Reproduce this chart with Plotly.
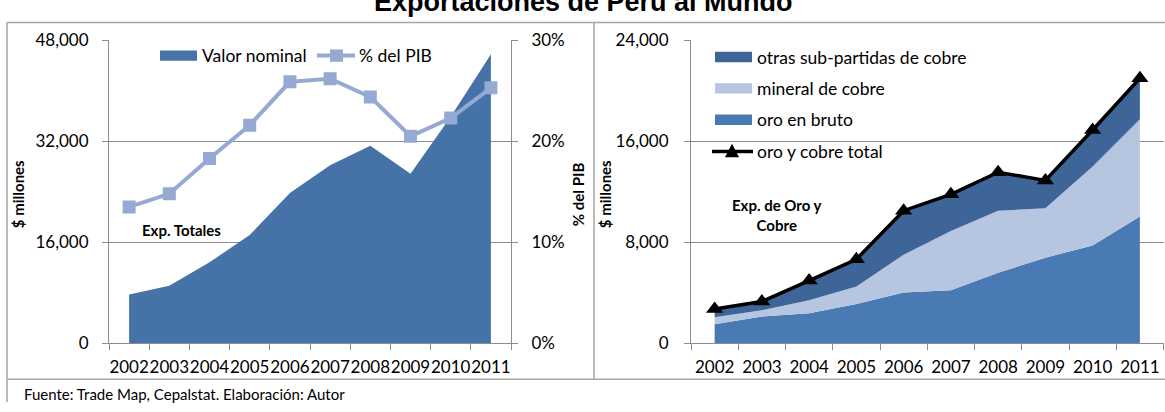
import plotly.graph_objects as go

W, H = 1165, 412

# ---- data -------------------------------------------------------------
years = ["2002", "2003", "2004", "2005", "2006", "2007", "2008", "2009", "2010", "2011"]

# Exportaciones totales, $ millones
valor_nominal = [7714, 9091, 12809, 17150, 23810, 28200, 31300, 26850, 35900, 45800]
# Exportaciones como % del PIB
pib_pct = [13.5, 14.8, 18.3, 21.6, 25.9, 26.2, 24.4, 20.5, 22.3, 25.3]

# Oro y cobre, $ millones (componentes apilados)
oro_bruto = [1500, 2110, 2380, 3100, 4020, 4190, 5580, 6780, 7750, 10050]
mineral_cobre = [560, 490, 1020, 1400, 2980, 4710, 4920, 3920, 6250, 7700]
otras_cobre = [650, 700, 1560, 2150, 3500, 2900, 3050, 2200, 2900, 3250]
total_oro_cobre = [a + b + c for a, b, c in zip(oro_bruto, mineral_cobre, otras_cobre)]

left_ticks = [0, 16000, 32000, 48000]
pct_ticks = [0, 10, 20, 30]
pct_labels = ["0%", "10%", "20%", "30%"]
right_ticks = [0, 8000, 16000, 24000]

# ---- styles -----------------------------------------------------------
C_AREA = "#4572A7"
C_PIB = "#95A9D3"
C_ORO = "#4A7AB4"
C_MINERAL = "#B6C5E0"
C_OTRAS = "#3E6597"
GRID = "#8C8C8C"
FRAME = "#A6A6A6"
FONT = "Lato"


def px(x):
    return x / W


def py(y):
    return 1 - y / H


fig = go.Figure()

# left panel: total exports area + % of GDP line
fig.add_trace(go.Scatter(
    x=years, y=valor_nominal, xaxis="x", yaxis="y", mode="none",
    fill="tozeroy", fillcolor=C_AREA, name="Valor nominal", hoverinfo="skip"))
fig.add_trace(go.Scatter(
    x=years, y=pib_pct, xaxis="x", yaxis="y2", mode="lines+markers",
    line=dict(color=C_PIB, width=4),
    marker=dict(symbol="square", size=13, color=C_PIB),
    name="% del PIB"))

# right panel: stacked gold / copper exports + total line
for name, vals, color in [("oro en bruto", oro_bruto, C_ORO),
                          ("mineral de cobre", mineral_cobre, C_MINERAL),
                          ("otras sub-partidas de cobre", otras_cobre, C_OTRAS)]:
    fig.add_trace(go.Scatter(
        x=years, y=vals, xaxis="x2", yaxis="y3", stackgroup="cu",
        mode="none", fillcolor=color, line=dict(width=0), name=name))
fig.add_trace(go.Scatter(
    x=years, y=total_oro_cobre, xaxis="x2", yaxis="y3", mode="lines+markers",
    line=dict(color="black", width=3.5),
    marker=dict(symbol="triangle-up", size=15, color="black"),
    name="oro y cobre total"))

tickfont = dict(family=FONT, size=17, color="black")
axis_base = dict(showline=True, linecolor=GRID, linewidth=1, ticks="outside",
                 ticklen=6, tickcolor=GRID, tickfont=tickfont, showgrid=False,
                 zeroline=False, fixedrange=True)

y_dom = [py(350), py(31)]

fig.update_layout(
    width=W, height=H, autosize=False,
    margin=dict(l=0, r=0, t=0, b=0),
    paper_bgcolor="white", plot_bgcolor="rgba(0,0,0,0)",
    showlegend=False,
    xaxis=dict(axis_base, domain=[px(109), px(511)], type="category",
               range=[-0.5, 9.5], tickson="boundaries", anchor="y",
               tickangle=0, ticklabelstandoff=8),
    yaxis=dict(axis_base, domain=y_dom, range=[0, 48000], tickvals=left_ticks,
               tickformat=",d", showgrid=True, gridcolor=GRID, gridwidth=1,
               anchor="x", ticklabelstandoff=10),
    yaxis2=dict(axis_base, overlaying="y", side="right", range=[0, 30],
                tickmode="array", tickvals=pct_ticks, ticktext=pct_labels,
                anchor="x", ticklabelstandoff=10),
    xaxis2=dict(axis_base, domain=[px(691), px(1163.5)], type="category",
                range=[-0.5, 9.5], tickson="boundaries", anchor="y3",
                tickangle=0, ticklabelstandoff=8),
    yaxis3=dict(axis_base, domain=y_dom, range=[0, 24000], tickvals=right_ticks,
                tickformat=",d", showgrid=True, gridcolor=GRID, gridwidth=1,
                anchor="x2", ticklabelstandoff=12),
)

shapes = []
# panel frames
frame = dict(type="line", xref="paper", yref="paper",
             line=dict(color=FRAME, width=1.5), layer="below")
for x0, y0, x1, y1 in [(7, 12, W, 12), (7, 12, 7, H), (594, 12, 594, 388),
                       (7, 388, W, 388)]:
    shapes.append(dict(frame, x0=px(x0), y0=py(y0), x1=px(x1), y1=py(y1)))


def swatch(x0, x1, yc, h, color):
    return dict(type="rect", xref="paper", yref="paper", x0=px(x0), x1=px(x1),
                y0=py(yc + h / 2), y1=py(yc - h / 2), fillcolor=color,
                line=dict(width=0))


# left legend
shapes.append(swatch(160, 197, 47, 11, C_AREA))
shapes.append(dict(type="line", xref="paper", yref="paper", x0=px(317), x1=px(355),
                   y0=py(47), y1=py(47), line=dict(color=C_PIB, width=4)))
shapes.append(swatch(330, 343, 47, 13, C_PIB))

# right legend
leg_rows = [48.5, 81.5, 114.5, 148]
for yc, color in zip(leg_rows[:3], [C_OTRAS, C_MINERAL, C_ORO]):
    shapes.append(swatch(715, 752, yc, 11, color))
shapes.append(dict(type="line", xref="paper", yref="paper", x0=px(712), x1=px(753),
                   y0=py(leg_rows[3]), y1=py(leg_rows[3]),
                   line=dict(color="black", width=3.5)))
tx, ty = 732, leg_rows[3]
shapes.append(dict(type="path", xref="paper", yref="paper",
                   path=f"M {px(tx - 7)} {py(ty + 6)} L {px(tx + 7)} {py(ty + 6)} "
                        f"L {px(tx)} {py(ty - 8)} Z",
                   fillcolor="black", line=dict(width=0)))

annotations = []


def label(text, x, y, size=17.5, bold=False, xanchor="left", angle=0,
          family=FONT):
    t = f"<b>{text}</b>" if bold else text
    annotations.append(dict(text=t, x=px(x), y=py(y), xref="paper", yref="paper",
                            xanchor=xanchor, yanchor="middle", showarrow=False,
                            textangle=angle,
                            font=dict(family=family, size=size, color="black")))


label("Valor nominal", 200, 47)
label("% del PIB", 357, 47)
label("otras sub-partidas de cobre", 755, leg_rows[0])
label("mineral de cobre", 755, leg_rows[1])
label("oro en bruto", 755, leg_rows[2])
label("oro y cobre total", 755, leg_rows[3])

label("$ millones", 18, 193, size=15, bold=True, xanchor="center", angle=-90)
label("% del PIB", 578, 193, size=15, bold=True, xanchor="center", angle=-90)
label("$ millones", 605, 193, size=15, bold=True, xanchor="center", angle=-90)
label("Exp. Totales", 181, 231, size=15, bold=True, xanchor="center")
label("Exp. de Oro y<br>Cobre", 777, 215, size=15, bold=True, xanchor="center")

label("Exportaciones de Perú al Mundo", 583, -10, size=27, bold=True,
      xanchor="center", family="Liberation Sans")
label("Fuente: Trade Map, Cepalstat. Elaboración: Autor", 22, 404, size=15)

fig.update_layout(shapes=shapes, annotations=annotations)

fig.write_html("out.html")
